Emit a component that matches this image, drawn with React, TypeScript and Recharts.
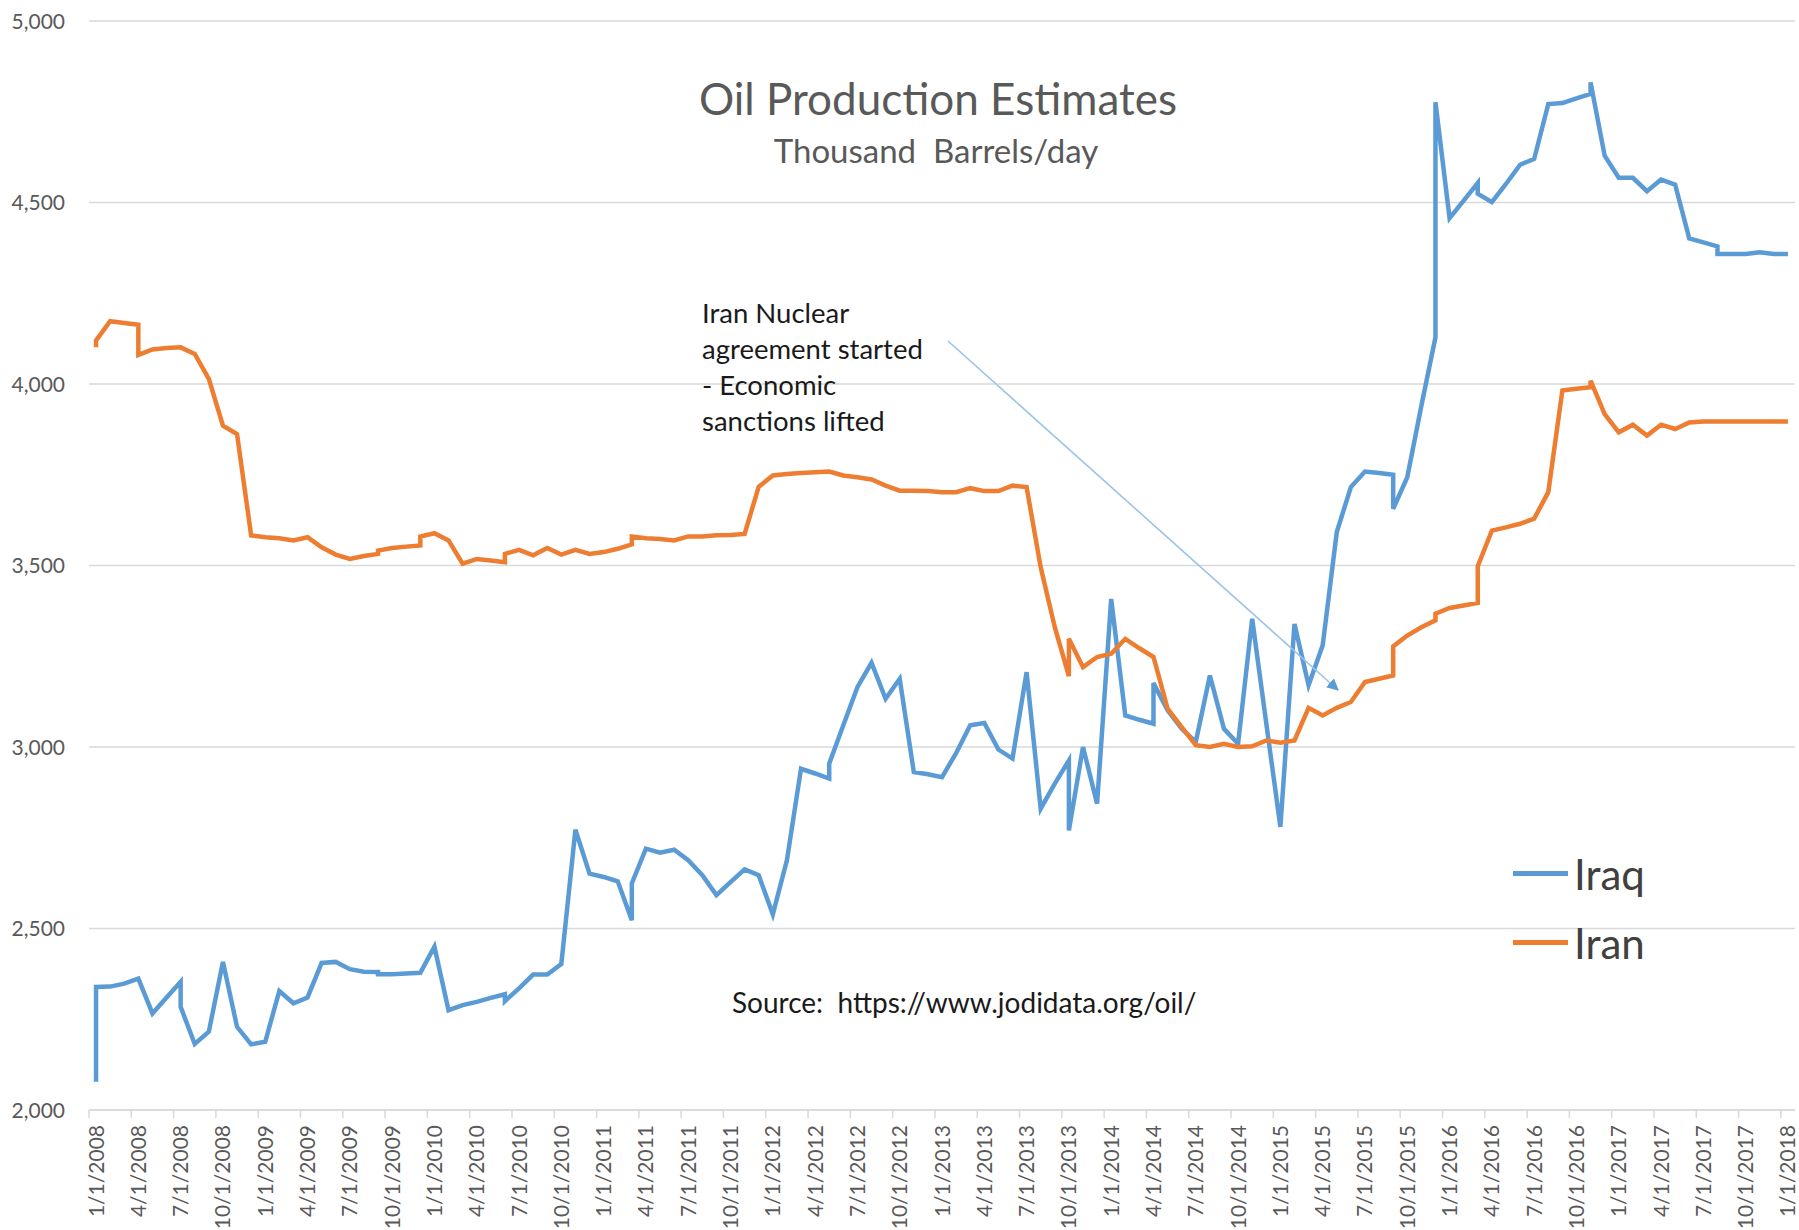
import { LineChart, Line, XAxis, YAxis, CartesianGrid } from 'recharts';

// quarterly tick labels, one every 3 months from Jan 2008
const TICK_LABELS = [
  '1/1/2008','4/1/2008','7/1/2008','10/1/2008','1/1/2009','4/1/2009','7/1/2009','10/1/2009',
  '1/1/2010','4/1/2010','7/1/2010','10/1/2010','1/1/2011','4/1/2011','7/1/2011','10/1/2011',
  '1/1/2012','4/1/2012','7/1/2012','10/1/2012','1/1/2013','4/1/2013','7/1/2013','10/1/2013',
  '1/1/2014','4/1/2014','7/1/2014','10/1/2014','1/1/2015','4/1/2015','7/1/2015','10/1/2015',
  '1/1/2016','4/1/2016','7/1/2016','10/1/2016','1/1/2017','4/1/2017','7/1/2017','10/1/2017','1/1/2018',
];
const Y_TICKS = [2000,2500,3000,3500,4000,4500,5000];

// month index since Jan 2008 (repeated month = revised value, drawn as a vertical step)
const IRAQ_MONTH = [
  0,0,1,2,3,4,5,6,6,7,8,9,10,11,
  12,13,14,15,16,17,18,19,20,20,21,22,23,
  24,25,26,27,28,29,29,30,31,32,33,34,35,
  36,37,38,38,39,40,41,42,43,44,45,46,47,
  48,49,50,51,52,52,53,54,55,56,57,58,59,
  60,61,62,63,64,65,66,67,68,69,69,70,71,
  72,73,74,75,75,76,77,78,79,80,81,82,83,
  84,85,86,87,88,89,90,91,92,92,93,94,95,95,
  96,97,98,98,99,100,101,102,103,104,105,106,106,107,
  108,109,110,111,112,113,114,115,115,116,117,118,119,
  120,
];
const IRAQ_KBD = [
  2078,2339,2340,2348,2362,2266,2310,2353,2284,2182,2216,2408,2229,2181,
  2188,2328,2294,2310,2405,2408,2388,2381,2380,2374,2374,2376,2378,
  2450,2275,2289,2298,2309,2319,2300,2335,2373,2373,2402,2772,2651,
  2642,2630,2523,2624,2720,2709,2717,2688,2647,2592,2628,2663,2647,
  2539,2688,2940,2927,2913,2954,3060,3165,3232,3133,3188,2931,2925,
  2917,2983,3060,3066,2993,2968,3206,2830,2899,2963,2770,3000,2844,
  3408,3087,3075,3064,3176,3101,3050,3014,3197,3050,3009,3353,3065,
  2780,3339,3170,3280,3592,3716,3759,3755,3750,3656,3743,3940,4129,4776,
  4457,4505,4554,4524,4501,4551,4604,4620,4771,4774,4787,4799,4831,4629,
  4568,4568,4531,4563,4549,4401,4390,4379,4358,4358,4358,4363,4358,
  4358,
];
const IRAN_MONTH = [
  0,0,1,2,3,3,4,5,6,7,8,9,10,11,
  12,13,14,15,16,17,18,19,20,20,21,22,23,23,
  24,25,26,27,28,29,29,30,31,32,33,34,35,
  36,37,38,38,39,40,41,42,43,44,45,46,47,
  48,49,50,51,52,53,54,55,56,57,58,59,
  60,61,62,63,64,65,66,67,68,69,69,70,71,
  72,73,74,75,76,77,78,79,80,81,82,83,
  84,85,86,87,88,89,90,91,92,92,93,94,95,95,
  96,97,98,98,99,100,101,102,103,104,105,106,106,107,
  108,109,110,111,112,113,114,115,116,117,118,119,
  120,
];
const IRAN_KBD = [
  4101,4120,4173,4168,4163,4080,4095,4099,4101,4083,4014,3885,3862,3583,
  3578,3575,3569,3578,3550,3530,3518,3526,3532,3541,3548,3552,3555,3580,
  3589,3569,3505,3518,3514,3509,3532,3543,3528,3548,3530,3543,3532,
  3537,3546,3558,3580,3575,3573,3569,3580,3580,3583,3584,3587,3717,
  3748,3752,3755,3757,3759,3748,3743,3737,3720,3706,3706,3705,
  3702,3702,3713,3705,3705,3720,3716,3495,3330,3195,3298,3220,3248,
  3257,3298,3272,3248,3106,3055,3005,3000,3009,3000,3002,3018,
  3012,3018,3108,3087,3108,3124,3179,3188,3197,3277,3307,3330,3349,3367,
  3383,3390,3397,3498,3596,3605,3615,3629,3702,3982,3987,3991,4009,3917,
  3867,3888,3858,3888,3876,3894,3897,3897,3897,3897,3897,3897,
  3897,
];
const SERIES = [{name:'Iraq',color:'#5b9bd5'},{name:'Iran',color:'#ed7d31'}];

const W = 1799, H = 1230;
const FONT = 'Lato, "Open Sans", sans-serif';
const GRAY = '#595959';
const GRID = '#d9d9d9';

// points sit in the middle of their month slot (date axis, between tick marks)
const toPoints = (ms:number[], vs:number[]) => ms.map((m,i)=>({x:m+0.5, v:vs[i]}));
const IRAQ = toPoints(IRAQ_MONTH, IRAQ_KBD);
const IRAN = toPoints(IRAN_MONTH, IRAN_KBD);
const X_TICKS = TICK_LABELS.map((_,i)=>i*3);

const XTick = (p:any) => {
  const label = TICK_LABELS[Math.round(p.payload.value/3)];
  return (
    <g transform={`translate(${p.x},${p.y})`}>
      <line x1={0} y1={0} x2={0} y2={8} stroke={GRID} strokeWidth={1.5}/>
      <text transform="translate(7,0) rotate(-90)" x={-15} y={0} dy="0.36em" textAnchor="end" fill={GRAY} fontSize={21} fontFamily={FONT}>{label}</text>
    </g>
  );
};
const YTick = (p:any) => (
  <text x={p.x-24} y={p.y} dy="0.36em" textAnchor="end" fill={GRAY} fontSize={21} fontFamily={FONT}>{Number(p.payload.value).toLocaleString('en-US')}</text>
);

export default function App() {
  return (
    <div style={{position:'absolute',left:0,top:0,width:W,height:H,background:'#fff',overflow:'hidden',fontFamily:FONT}}>
      <LineChart width={W} height={H} margin={{top:21,right:4,bottom:0,left:0}}>
        <CartesianGrid horizontal vertical={false} stroke={GRID} strokeWidth={1.5}/>
        <XAxis type="number" dataKey="x" domain={[0,121]} ticks={X_TICKS} interval={0} height={120} tickSize={0} tickMargin={0} tick={<XTick/>} axisLine={{stroke:GRID,strokeWidth:1.5}} tickLine={false} allowDataOverflow/>
        <YAxis type="number" domain={[2000,5000]} ticks={Y_TICKS} width={89} tickSize={0} tickMargin={0} tick={<YTick/>} axisLine={false} tickLine={false} allowDataOverflow/>
        <Line data={IRAQ} dataKey="v" name="Iraq" type="linear" stroke={SERIES[0].color} strokeWidth={4.5} dot={false} isAnimationActive={false}/>
        <Line data={IRAN} dataKey="v" name="Iran" type="linear" stroke={SERIES[1].color} strokeWidth={4.5} dot={false} isAnimationActive={false}/>
      </LineChart>

      <div style={{position:'absolute',left:538,width:800,top:73,textAlign:'center',fontSize:44,lineHeight:'50px',color:GRAY}}>Oil Production Estimates</div>
      <div style={{position:'absolute',left:536,width:800,top:132,textAlign:'center',fontSize:33,lineHeight:'36px',color:GRAY,whiteSpace:'pre'}}>{'Thousand  Barrels/day'}</div>

      <div style={{position:'absolute',left:702,top:295,fontSize:27.5,lineHeight:'36px',color:'#1a1a1a'}}>
        <div>Iran Nuclear</div>
        <div>agreement started</div>
        <div>- Economic</div>
        <div>sanctions lifted</div>
      </div>

      <div style={{position:'absolute',left:732,top:985,fontSize:28,lineHeight:'34px',color:'#1a1a1a',whiteSpace:'pre'}}>{'Source:  https://www.jodidata.org/oil/'}</div>

      <div style={{position:'absolute',left:1513,top:839}}>
        {SERIES.map(s=>(
          <div key={s.name} style={{display:'flex',alignItems:'center',height:69}}>
            <span style={{display:'inline-block',width:55,height:5,background:s.color,marginRight:6}}/>
            <span style={{fontSize:42,color:'#404040',lineHeight:1}}>{s.name}</span>
          </div>
        ))}
      </div>

      <svg width={W} height={H} style={{position:'absolute',left:0,top:0,pointerEvents:'none'}}>
        <defs>
          <marker id="ah" viewBox="0 0 10 10" refX="9" refY="5" markerWidth="12" markerHeight="12" markerUnits="userSpaceOnUse" orient="auto">
            <path d="M0,0 L10,5 L0,10 z" fill="#5b9bd5"/>
          </marker>
        </defs>
        <line x1={948} y1={341} x2={1338} y2={690} stroke="#9dc3e6" strokeWidth={1.6} markerEnd="url(#ah)"/>
      </svg>
    </div>
  );
}
